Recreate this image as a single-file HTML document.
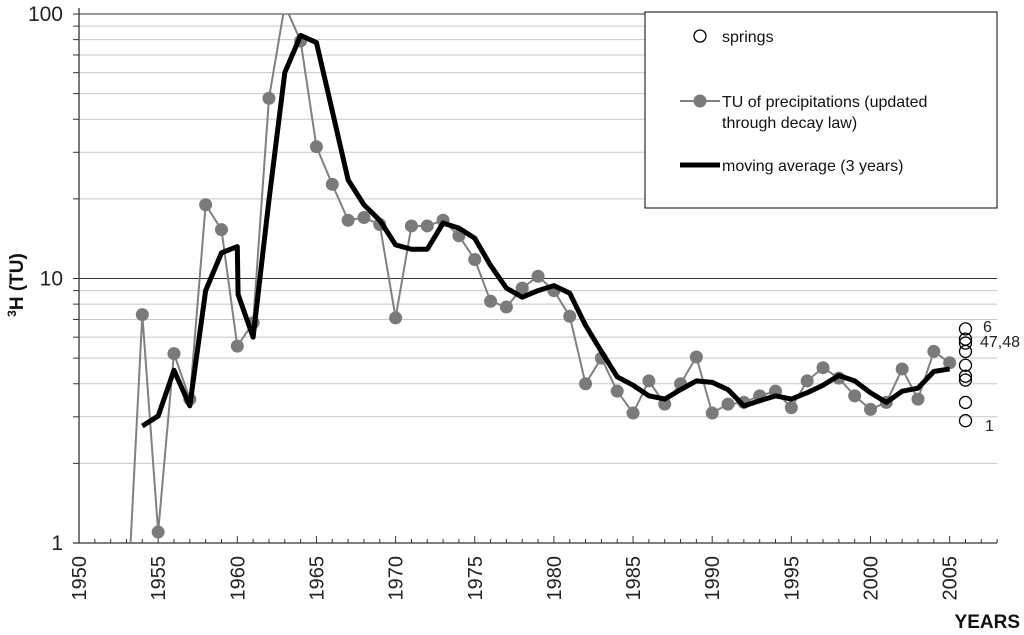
<!DOCTYPE html>
<html><head><meta charset="utf-8"><style>
body{margin:0;background:#fff}
svg{display:block;font-family:"Liberation Sans",Arial,sans-serif}
</style></head><body>
<svg id="chart" width="1024" height="635"></svg>
<script>
const precipYears=[1953,1954,1955,1956,1957,1958,1959,1960,1961,1962,1963,1964,1965,1966,1967,1968,1969,1970,1971,1972,1973,1974,1975,1976,1977,1978,1979,1980,1981,1982,1983,1984,1985,1986,1987,1988,1989,1990,1991,1992,1993,1994,1995,1996,1997,1998,1999,2000,2001,2002,2003,2004,2005];
const precipValues=[0.5,7.3,1.1,5.2,3.5,19,15.3,5.55,6.8,48,108,79,31.5,22.7,16.6,17,16,7.1,15.8,15.8,16.6,14.5,11.8,8.2,7.8,9.2,10.2,9.0,7.2,4.0,5.0,3.75,3.1,4.1,3.35,4.0,5.05,3.1,3.35,3.4,3.6,3.75,3.25,4.1,4.6,4.2,3.6,3.2,3.4,4.55,3.5,5.3,4.8];
const avgYears=[1954,1955,1956,1957,1958,1959,1960,1960.05,1961,1962,1963,1964,1965,1966,1967,1968,1969,1970,1971,1972,1973,1974,1975,1976,1977,1978,1979,1980,1981,1982,1983,1984,1985,1986,1987,1988,1989,1990,1991,1992,1993,1994,1995,1996,1997,1998,1999,2000,2001,2002,2003,2004,2005];
const avgValues=[2.77,3.02,4.5,3.3,9.0,12.5,13.2,8.7,6.0,19.8,60,83,78,43,23.6,19,16.6,13.4,12.9,12.9,16.2,15.5,14.2,11.2,9.2,8.5,9.0,9.4,8.8,6.65,5.3,4.25,3.95,3.6,3.5,3.8,4.1,4.05,3.8,3.3,3.45,3.6,3.5,3.7,3.95,4.3,4.1,3.7,3.4,3.75,3.85,4.45,4.55];
const springYear=2006;
const springValues=[6.45,5.9,5.7,5.3,4.7,4.27,4.13,3.4,2.9];
const xTicks=[1950,1955,1960,1965,1970,1975,1980,1985,1990,1995,2000,2005];
const yTicks=[1,10,100];

const NS="http://www.w3.org/2000/svg";
const svg=document.getElementById('chart');
const X0=79,PX=15.83,Y1=543,DEC=264.5;
const xs=y=>X0+(y-1950)*PX;
const ys=v=>Y1-Math.log10(v)*DEC;
function mk(tag,attrs,parent){const e=document.createElementNS(NS,tag);for(const k in attrs)e.setAttribute(k,attrs[k]);(parent||svg).appendChild(e);return e;}

const defs=mk('defs',{});
const cp=mk('clipPath',{id:'plotclip'},defs);
mk('rect',{x:X0,y:14,width:920,height:529},cp);

// gridlines
const grid=mk('g',{});


for(let d=0;d<2;d++){for(let m=2;m<=10;m++){const v=Math.pow(10,d)*m;const y=ys(v);
 mk('line',{x1:X0,x2:997,y1:y,y2:y,stroke:(m===10?'#333':'#c8c8c8'),'stroke-width':1},grid);
 mk('line',{x1:73,x2:X0,y1:y,y2:y,stroke:'#333','stroke-width':1},grid);}}

// axes
const ax=mk('g',{});


mk('line',{x1:X0,x2:X0,y1:8,y2:543,stroke:'#333','stroke-width':1.3},ax);
mk('line',{x1:73,x2:997,y1:543,y2:543,stroke:'#333','stroke-width':1.3},ax);
for(let yr=1950;yr<=2008;yr++){const x=xs(yr);const big=yr%5===0;
 mk('line',{x1:x,x2:x,y1:big?536:539,y2:543,stroke:'#333','stroke-width':1},ax);}
for(let i=0;i<yTicks.length;i++){const y=ys(yTicks[i]);
 mk('line',{x1:73,x2:X0,y1:y,y2:y,stroke:'#333','stroke-width':1},ax);
 const t=mk('text',{x:63,y:y+7,'text-anchor':'end','font-size':21,fill:'#222'},ax);t.textContent=yTicks[i];
 
 }
for(let i=0;i<xTicks.length;i++){const x=xs(xTicks[i]);
 const t=mk('text',{transform:`translate(${x+7},556) rotate(-90)`,'text-anchor':'end','font-size':20,fill:'#222'},ax);t.textContent=xTicks[i];
 
 }
const yt=mk('text',{transform:'translate(23,285) rotate(-90)','text-anchor':'middle','font-size':19,'font-weight':'bold',fill:'#111'});
yt.innerHTML='<tspan font-size="12" dy="-7">3</tspan><tspan dy="7">H (TU)</tspan>';


const xt=mk('text',{x:1020,y:628,'text-anchor':'end','font-size':19,'font-weight':'bold',fill:'#111'});xt.textContent='YEARS';



// series
const plot=mk('g',{'clip-path':'url(#plotclip)'});
const pp=precipYears.map((y,i)=>xs(y)+','+ys(precipValues[i])).join(' ');
const pl=mk('polyline',{points:pp,fill:'none',stroke:'#808080','stroke-width':2},plot);


for(let i=0;i<precipYears.length;i++){const c=mk('circle',{cx:xs(precipYears[i]),cy:ys(precipValues[i]),r:6.5,fill:'#7a7a7a'},plot);
 
 }
const ap=avgYears.map((y,i)=>xs(y)+','+ys(avgValues[i])).join(' ');
const al=mk('polyline',{points:ap,fill:'none',stroke:'#000','stroke-width':5,'stroke-linejoin':'round'},plot);


for(let i=0;i<springValues.length;i++){const c=mk('circle',{cx:xs(springYear),cy:ys(springValues[i]),r:6,fill:'none',stroke:'#000','stroke-width':1.3});
 
 }
[['6',983,332],['47,48',980,347],['1',985,431]].forEach(a=>{const t=mk('text',{x:a[1],y:a[2],'font-size':16,fill:'#222'});t.textContent=a[0];
 
 });

// legend
const lg=mk('g',{});


mk('rect',{x:645,y:12,width:352,height:196,fill:'#fff',stroke:'#000','stroke-width':1},lg);
mk('circle',{cx:700,cy:36,r:6,fill:'none',stroke:'#000','stroke-width':1.3},lg);
let t=mk('text',{x:722,y:42,'font-size':16,fill:'#111'},lg);t.textContent='springs';
mk('line',{x1:680,x2:720,y1:101,y2:101,stroke:'#808080','stroke-width':2},lg);
mk('circle',{cx:700,cy:101,r:6.5,fill:'#7a7a7a'},lg);
t=mk('text',{x:722,y:107,'font-size':16,fill:'#111'},lg);t.textContent='TU of precipitations (updated';
t=mk('text',{x:722,y:128,'font-size':16,fill:'#111'},lg);t.textContent='through decay law)';
mk('line',{x1:680,x2:720,y1:165,y2:165,stroke:'#000','stroke-width':5},lg);
t=mk('text',{x:722,y:171,'font-size':16,fill:'#111'},lg);t.textContent='moving average (3 years)';
</script>
</body></html>
